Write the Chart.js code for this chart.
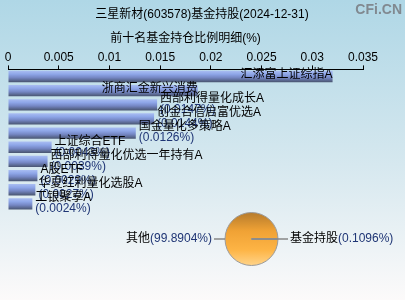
<!DOCTYPE html>
<html><head><meta charset="utf-8">
<script src="https://cdn.jsdelivr.net/npm/chart.js@4/dist/chart.umd.min.js"></script>
<style>
html,body{margin:0;padding:0;width:405px;height:300px;overflow:hidden;}
body{background:linear-gradient(#afd7e6 0%,#d6e8ef 55%,#fcfafa 100%);position:relative;}
canvas{position:absolute;left:0;}
#bar{top:0;}
#pie{top:200px;}
</style></head>
<body>
<canvas id="bar" width="405" height="300"></canvas>
<canvas id="pie" width="405" height="80"></canvas>
<script>
const titleText = '三星新材(603578)基金持股(2024-12-31)';
const subtitleText = '前十名基金持仓比例明细(%)';
const fundNames = ['汇添富上证综指A','浙商汇金新兴消费','西部利得量化成长A','创金合信启富优选A','国金量化多策略A','上证综合ETF','西部利得量化优选一年持有A','A股ETF','华夏红利量化选股A','工银聚享A'];
const fundValues = [0.0320,0.0187,0.0147,0.0144,0.0126,0.0043,0.0039,0.0029,0.0027,0.0024];
const xTickLabels = ['0','0.005','0.01','0.015','0.02','0.025','0.03','0.035'];
const pieNames = ['其他','基金持股'];
const pieValues = [99.8904,0.1096];

const FONT = '"Liberation Sans","Noto Sans CJK SC",sans-serif';
const VALUE_COLOR = '#1f3575';

function barGradient(c){
  const chart = c.chart;
  const ys = chart.scales.y;
  if(!ys || c.dataIndex === undefined) return '#7f98dc';
  const y = ys.getPixelForValue(c.dataIndex);
  const pitch = Math.abs(ys.getPixelForValue(1) - ys.getPixelForValue(0));
  if(!isFinite(y) || !isFinite(pitch) || pitch <= 0) return '#7f98dc';
  const h = pitch * 0.8;
  const g = chart.ctx.createLinearGradient(0, y - h/2, 0, y + h/2);
  g.addColorStop(0, '#a9bdf2');
  g.addColorStop(0.3, '#8ea6e8');
  g.addColorStop(0.6, '#7587c4');
  g.addColorStop(1, '#48546f');
  return g;
}

const barDecor = {
  id:'barDecor',
  afterDraw(chart){
    const ctx = chart.ctx;
    const ca = chart.chartArea;
    ctx.save();
    ctx.textBaseline = 'middle';
    ctx.fillStyle = '#000';
    ctx.font = '12px ' + FONT;
    ctx.textAlign = 'center';
    ctx.fillText(titleText, 202, 15);
    ctx.fillText(subtitleText, (ca.left + ca.right)/2, 39);
    ctx.font = 'bold 14px ' + FONT;
    ctx.fillStyle = '#818990';
    ctx.textAlign = 'right';
    ctx.fillText('CFi.CN', 402, 10);
    const meta = chart.getDatasetMeta(0);
    ctx.font = '12px ' + FONT;
    meta.data.forEach((el, i) => {
      const v = fundValues[i];
      if (v > 0.016) {
        ctx.textAlign = 'right';
        ctx.fillStyle = '#000';
        ctx.fillText(fundNames[i], el.x, el.y - 2);
      } else {
        ctx.textAlign = 'left';
        ctx.fillStyle = '#000';
        ctx.fillText(fundNames[i], el.x + 3, el.y - 6);
        ctx.fillStyle = VALUE_COLOR;
        ctx.fillText('(' + v.toFixed(4) + '%)', el.x + 3, el.y + 5);
      }
    });
    ctx.restore();
  }
};

new Chart(document.getElementById('bar'), {
  type:'bar',
  data:{
    labels: fundNames,
    datasets:[{data: fundValues, backgroundColor: barGradient, borderWidth:0,
      categoryPercentage:0.8, barPercentage:1}]
  },
  options:{
    indexAxis:'y',
    responsive:false,
    animation:false,
    layout:{padding:{left:8,right:42,top:49,bottom:89}},
    plugins:{legend:{display:false},tooltip:{enabled:false}},
    scales:{
      x:{position:'top',min:0,max:0.035,
        ticks:{stepSize:0.005,color:'#000',padding:1,font:{size:12,family:FONT},
          callback:(v,i)=>xTickLabels[i]},
        grid:{drawOnChartArea:false,tickLength:4,color:'#000'},
        border:{color:'#000',width:1}},
      y:{display:false}
    }
  },
  plugins:[barDecor]
});

function pieGradient(c){
  const ca = c.chart.chartArea;
  if(!ca || !isFinite(ca.top) || !isFinite(ca.bottom)) return '#f5a832';
  const g = c.chart.ctx.createLinearGradient(0, ca.top, 0, ca.bottom);
  g.addColorStop(0, '#b47a2c');
  g.addColorStop(0.35, '#f0a235');
  g.addColorStop(0.7, '#fdb445');
  g.addColorStop(1, '#ffd58c');
  return g;
}

const pieDecor = {
  id:'pieDecor',
  afterDraw(chart){
    const ctx = chart.ctx;
    const el = chart.getDatasetMeta(0).data[0];
    const cx = el.x, cy = el.y, r = el.outerRadius;
    ctx.save();
    ctx.strokeStyle = '#888';
    ctx.lineWidth = 1.5;
    ctx.beginPath();
    ctx.moveTo(cx - r, cy); ctx.lineTo(cx - r - 11, cy);
    ctx.moveTo(cx, cy); ctx.lineTo(cx + r + 10, cy);
    ctx.stroke();
    ctx.font = '12px ' + FONT;
    ctx.textBaseline = 'middle';
    const lv = '(' + pieValues[0].toFixed(4) + '%)';
    const xr = cx - r - 13;
    ctx.textAlign = 'right';
    ctx.fillStyle = VALUE_COLOR;
    ctx.fillText(lv, xr, cy);
    const lw = ctx.measureText(lv).width;
    ctx.fillStyle = '#000';
    ctx.fillText(pieNames[0], xr - lw, cy);
    const xl = cx + r + 12;
    ctx.textAlign = 'left';
    ctx.fillStyle = '#000';
    ctx.fillText(pieNames[1], xl, cy);
    const nw = ctx.measureText(pieNames[1]).width;
    ctx.fillStyle = VALUE_COLOR;
    ctx.fillText('(' + pieValues[1].toFixed(4) + '%)', xl + nw, cy);
    ctx.restore();
  }
};

new Chart(document.getElementById('pie'), {
  type:'pie',
  data:{labels: pieNames, datasets:[{data: pieValues, backgroundColor: pieGradient,
    borderColor:'#9a9a9a', borderWidth:1}]},
  options:{
    responsive:false, animation:false, rotation:90,
    layout:{padding:{left:224,right:126,top:12,bottom:14}},
    plugins:{legend:{display:false},tooltip:{enabled:false}}
  },
  plugins:[pieDecor]
});
</script>
</body></html>
